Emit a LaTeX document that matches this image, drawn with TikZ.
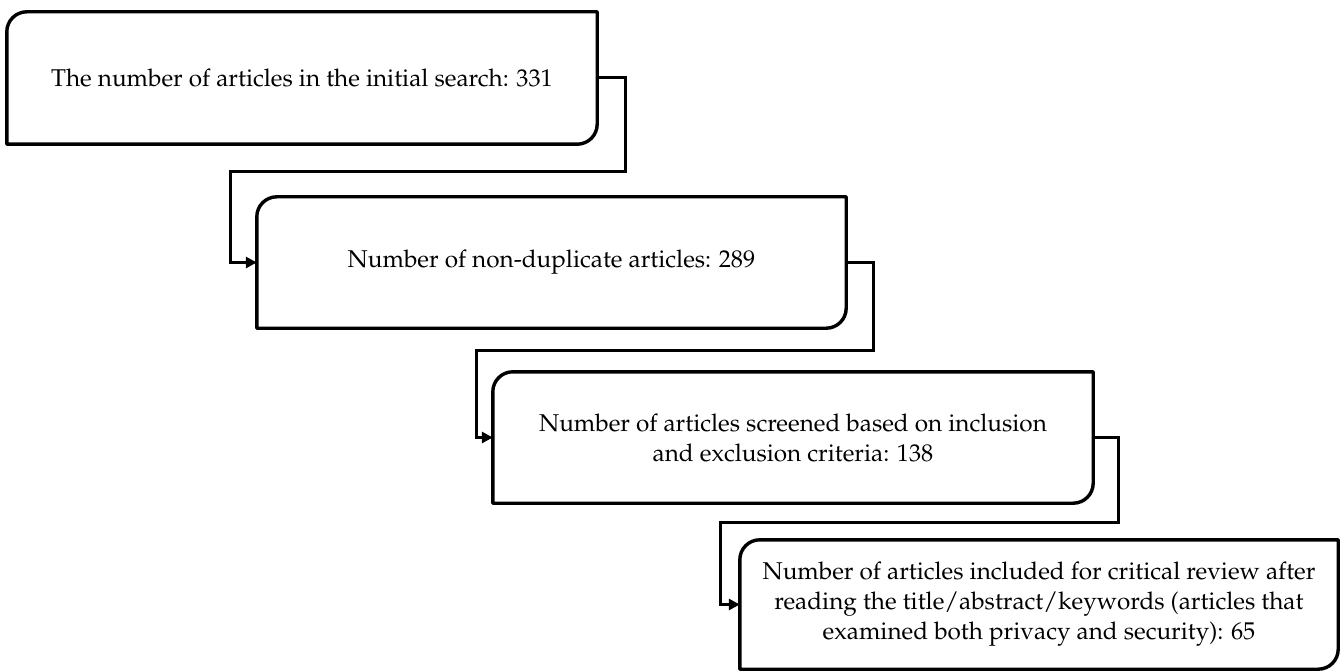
\documentclass[tikz,border=0pt]{standalone}
\usepackage[T1]{fontenc}
\usepackage{mathpazo}
\usetikzlibrary{arrows.meta}
\begin{document}
\begin{tikzpicture}[x=1pt,y=1pt,
  box/.style={rectangle, inner sep=0pt, align=center, font=\fontsize{24.3}{30}\selectfont},
  boxline/.style={line width=3.4pt, line join=round},
  conn/.style={line width=3pt, -{Triangle[length=11pt,width=11pt]}}
]
\useasboundingbox (0,0) rectangle (1341,-671);
\fill[white] (0,0) rectangle (1341,-671);
\node[box, minimum width=590pt, minimum height=132pt] (b1) at (302,-78) {The number of articles in the initial search: 331};
\node[box, minimum width=589pt, minimum height=131pt] (b2) at (551.5,-262.5) {Number of non-duplicate articles: 289};
\node[box, minimum width=600pt, minimum height=131pt] (b3) at (793,-437.5) {Number of articles screened based on inclusion\\and exclusion criteria: 138};
\node[box, minimum width=598pt, minimum height=129pt] (b4) at (1039,-604.5) {Number of articles included for critical review after\\reading the title/abstract/keywords (articles that\\examined both privacy and security): 65};
\foreach \b in {b1,b2,b3,b4}{
  \draw[boxline] (\b.south west) -- ([yshift=-20pt]\b.north west) arc[start angle=180,end angle=90,radius=20pt] -- (\b.north east) -- ([yshift=20pt]\b.south east) arc[start angle=0,end angle=-90,radius=20pt] -- cycle;
}
\draw[conn] (b1.east) -| (625,-172) -| (230,-262.5) -- (b2.west);
\draw[conn] (b2.east) -| (873,-350) -| (476,-437.5) -- (b3.west);
\draw[conn] (b3.east) -| (1118,-522) -| (720,-604.5) -- (b4.west);
\end{tikzpicture}
\end{document}
